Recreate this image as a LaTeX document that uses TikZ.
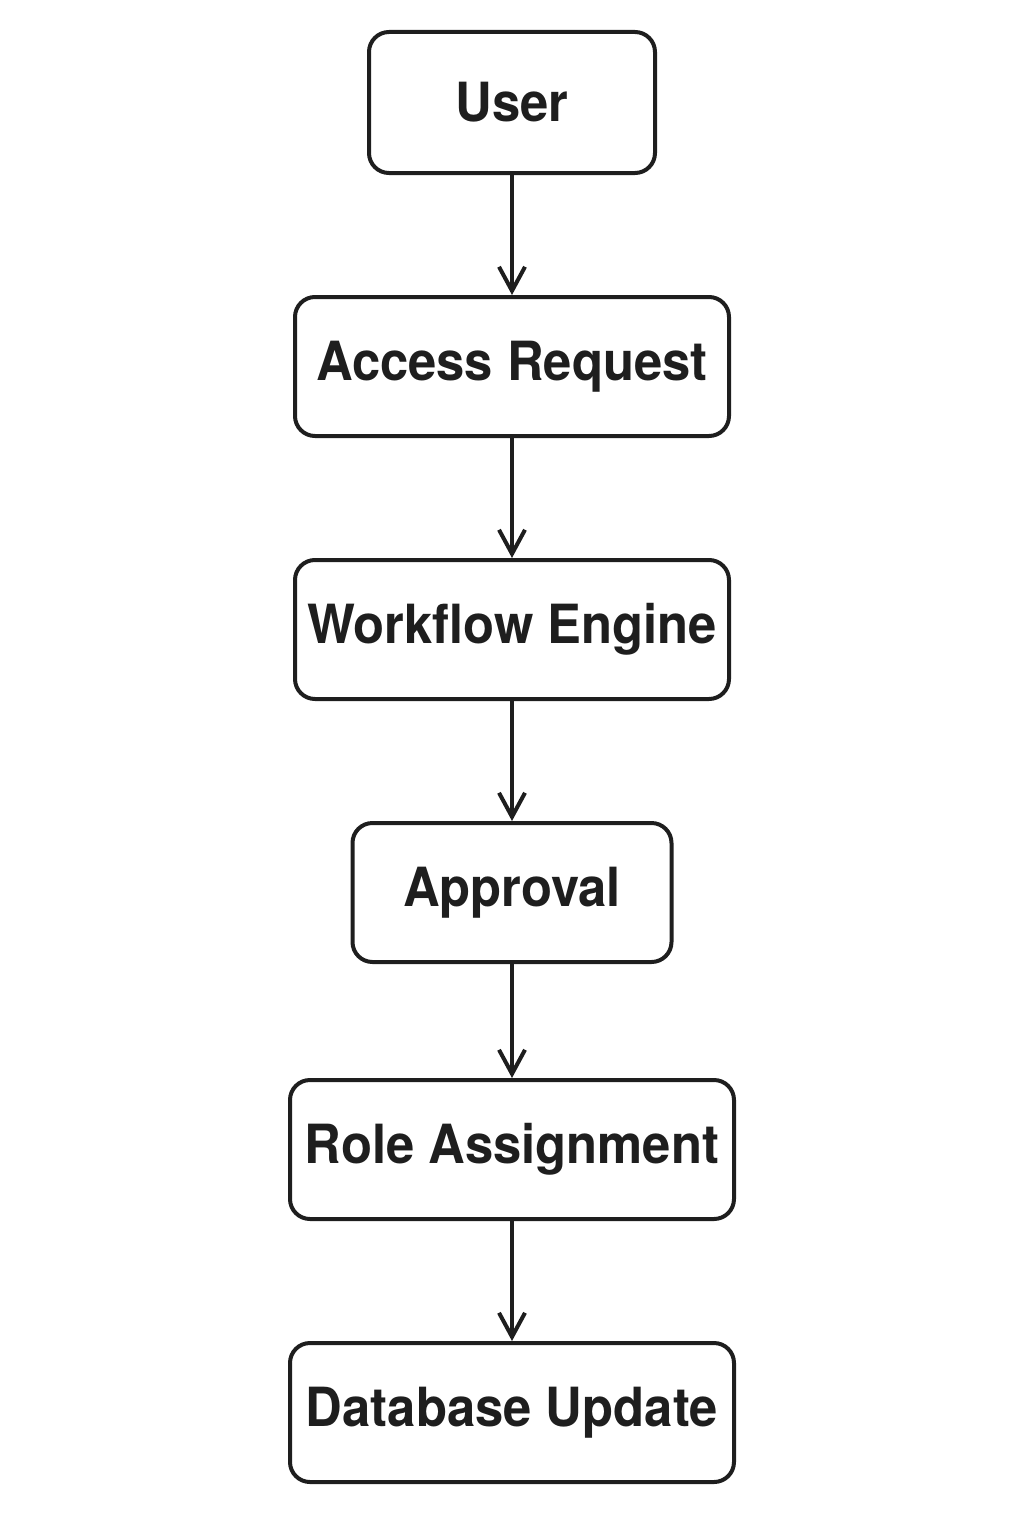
\documentclass[tikz,border=0pt]{standalone}
\usepackage{fontspec}
\setmainfont{TeX Gyre Heros}
\newfontfamily\boxfont[FakeStretch=0.94]{TeX Gyre Heros}
\usetikzlibrary{positioning, arrows.meta}
\definecolor{ink}{HTML}{1E1E1E}
\tikzstyle{blk}=[draw=ink, line width=2pt, rounded corners=10pt, minimum height=69.5pt, font=\fontsize{27}{30}\boxfont\bfseries, text=ink, inner sep=0pt]
\begin{document}
\begin{tikzpicture}[node distance=60pt, auto, > = {Straight Barb[length=12pt, width=13pt, line width=2pt]}]
                    \useasboundingbox (0,0) rectangle (512pt,-768pt);
                    \node [blk, minimum width=143pt, minimum height=70.5pt] (user) at (256pt,-51.25pt) {User};
                    \node [blk, minimum width=217pt] (req) [below=of user] {Access Request};
                    \node [blk, minimum width=217pt] (wfe) [below=of req] {Workflow Engine};
                    \node [blk, minimum width=159.5pt] (appr) [below=of wfe] {Approval};
                    \node [blk, minimum width=222pt] (role) [below=57pt of appr] {Role Assignment};
                    \node [blk, minimum width=222pt] (db) [below=of role] {Database Update};
                    \path[->, draw=ink, line width=2pt] (user) edge (req);
                    \path[->, draw=ink, line width=2pt] (req) edge (wfe);
                    \path[->, draw=ink, line width=2pt] (wfe) edge (appr);
                    \path[->, draw=ink, line width=2pt] (appr) edge (role);
                    \path[->, draw=ink, line width=2pt] (role) edge (db);
                \end{tikzpicture}
\end{document}
